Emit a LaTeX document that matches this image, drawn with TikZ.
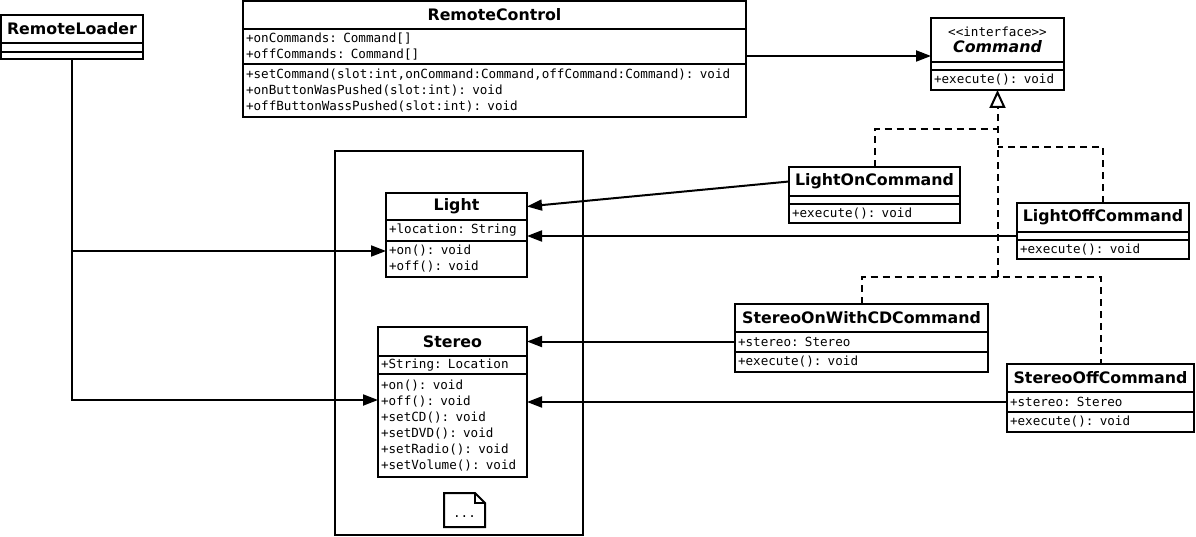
\documentclass[tikz,border=0pt]{standalone}
\usepackage{fontspec}
\setmainfont{DejaVu Sans}
\setmonofont{DejaVu Sans Mono}
\usetikzlibrary{positioning,arrows.meta}
\newcommand{\mono}{\ttfamily\mdseries\upshape\fontsize{12.6}{16}\selectfont}
\newcommand{\ttl}{\bfseries\fontsize{15.8}{18}\selectfont}
\tikzset{
	hdr/.style={draw, line width=2pt, inner xsep=3pt, inner ysep=0pt, outer sep=0pt, font=\ttl, align=center},
	cmp/.style={draw, line width=2pt, inner xsep=3pt, inner ysep=0pt, outer sep=0pt, font=\mono, align=left},
	assoc/.style={line width=2pt, -{Triangle[length=15pt,width=11pt]}},
	impl/.style={line width=2pt, dash pattern=on 7pt off 5pt},
}
\begin{document}
\begin{tikzpicture}[x=1pt, y=-1pt]
		\useasboundingbox (0,0) rectangle (1196,537);
		
		%Package frame and note
		\node[draw, line width=2pt, minimum width=248pt, minimum height=384pt, anchor=north west, outer sep=0pt] (pkg) at (335,151) {};
		\node[minimum width=41pt, minimum height=34pt, anchor=north west, outer sep=0pt] (note) at (444,493) {};
		\draw[line width=2pt] (note.north west) -- ([xshift=-10pt]note.north east) -- ([yshift=-10pt]note.north east) 
		-- (note.south east) -- (note.south west) -- cycle;
		\draw[line width=2pt] ([xshift=-10pt]note.north east) |- ([yshift=-10pt]note.north east);
		\node[font=\mono, inner sep=0pt] (dots) at ([yshift=-7pt]note.center) {...};
		
		%RemoteLoader
		\node[hdr, text width=136pt, minimum height=28pt, anchor=north west] (rlH) at (1,15) {RemoteLoader};
		\node[cmp, text width=136pt, minimum height=9pt, below=0pt of rlH] (rlA) {};
		\node[cmp, text width=136pt, minimum height=7pt, below=0pt of rlA] (rlO) {};
		
		%RemoteControl
		\node[hdr, text width=497pt, minimum height=28pt, anchor=north west] (rcH) at (243,1) {RemoteControl};
		\node[cmp, text width=497pt, minimum height=35pt, below=0pt of rcH] (rcA) {+onCommands: Command[]\\+offCommands: Command[]};
		\node[cmp, text width=497pt, minimum height=53pt, below=0pt of rcA] (rcO) {+setCommand(slot:int,onCommand:Command,offCommand:Command): void\\
		+onButtonWasPushed(slot:int): void\\+offButtonWassPushed(slot:int): void};
		
		%Command
		\node[hdr, text width=127pt, minimum height=44pt, anchor=north west] (cmdH) at (931,18) {{\mono <{}<interface>{}>}\\[-2pt]\itshape Command};
		\node[cmp, text width=127pt, minimum height=8pt, below=0pt of cmdH] (cmdA) {};
		\node[cmp, text width=127pt, minimum height=20pt, below=0pt of cmdA] (cmdO) {+execute(): void};
		
		%Light
		\node[hdr, text width=135pt, minimum height=27pt, anchor=north west] (lightH) at (386,193) {Light};
		\node[cmp, text width=135pt, minimum height=21pt, below=0pt of lightH] (lightA) {+location: String};
		\node[cmp, text width=135pt, minimum height=36pt, below=0pt of lightA] (lightO) {+on(): void\\+off(): void};
		
		%Stereo
		\node[hdr, text width=143pt, minimum height=29pt, anchor=north west] (stereoH) at (378,327) {Stereo};
		\node[cmp, text width=143pt, minimum height=18pt, below=0pt of stereoH] (stereoA) {+String: Location};
		\node[cmp, text width=143pt, minimum height=103pt, below=0pt of stereoA] (stereoO) {+on(): void\\+off(): void\\
		+setCD(): void\\+setDVD(): void\\+setRadio(): void\\+setVolume(): void};
		
		%LightOnCommand
		\node[hdr, text width=165pt, minimum height=29pt, anchor=north west] (lonH) at (789,167) {LightOnCommand};
		\node[cmp, text width=165pt, minimum height=8pt, below=0pt of lonH] (lonA) {};
		\node[cmp, text width=165pt, minimum height=19pt, below=0pt of lonA] (lonO) {+execute(): void};
		
		%LightOffCommand
		\node[hdr, text width=166pt, minimum height=29pt, anchor=north west] (loffH) at (1017,203) {LightOffCommand};
		\node[cmp, text width=166pt, minimum height=8pt, below=0pt of loffH] (loffA) {};
		\node[cmp, text width=166pt, minimum height=19pt, below=0pt of loffA] (loffO) {+execute(): void};
		
		%StereoOnWithCDCommand
		\node[hdr, text width=247pt, minimum height=28pt, anchor=north west] (sonH) at (735,304) {StereoOnWithCDCommand};
		\node[cmp, text width=247pt, minimum height=20pt, below=0pt of sonH] (sonA) {+stereo: Stereo};
		\node[cmp, text width=247pt, minimum height=20pt, below=0pt of sonA] (sonO) {+execute(): void};
		
		%StereoOffCommand
		\node[hdr, text width=181pt, minimum height=28pt, anchor=north west] (soffH) at (1007,364) {StereoOffCommand};
		\node[cmp, text width=181pt, minimum height=20pt, below=0pt of soffH] (soffA) {+stereo: Stereo};
		\node[cmp, text width=181pt, minimum height=20pt, below=0pt of soffA] (soffO) {+execute(): void};
		
		%Associations
		\draw[assoc] (rcA.east |- 0,56) -- (cmdH.west |- 0,56);
		\draw[assoc] (rlO.south) |- (stereoO.west |- 0,400);
		\draw[assoc] (rlO.south |- 0,251) -- (lightO.west |- 0,251);
		\draw[assoc] (lonH.west) -- (lightH.east);
		\draw[assoc] (loffA.west) -- (loffA.west -| lightA.east);
		\draw[assoc] (sonA.west |- stereoH.east) -- (stereoH.east);
		\draw[assoc] (soffA.west) -- (soffA.west -| stereoO.east);
		
		%Realizations
		\draw[impl, -{Triangle[open, length=18pt, width=16pt]}] (cmdO.south |- 0,277) -- (cmdO.south);
		\draw[impl] (lonH.north) |- (cmdO.south |- 0,129);
		\draw[impl] (loffH.north) |- (cmdO.south |- 0,147);
		\draw[impl] (sonH.north) |- (cmdO.south |- 0,277) -| (soffH.north);
\end{tikzpicture}
\end{document}
